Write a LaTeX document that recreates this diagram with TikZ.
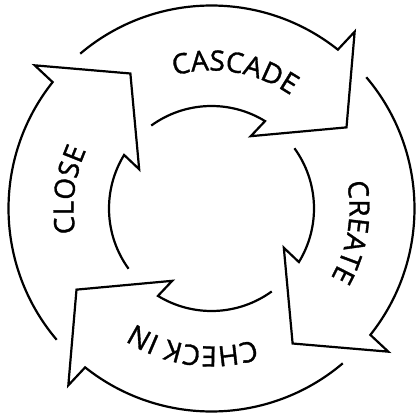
\documentclass[tikz,border=0pt]{standalone}
\usepackage{fontspec}
\setmainfont{Open Sans}
\newfontfamily\cyclefont[FakeBold=1.2]{Open Sans}
\usetikzlibrary{decorations.text}
\tikzset{
  arrowline/.style={draw=black, line width=2.2pt, line join=miter},
  cyclelabel/.style={decorate, decoration={text along path, text align=center, text={|\cyclefont\fontsize{28}{32}\selectfont|#1}}}
}
\begin{document}
\begin{tikzpicture}[x=1pt,y=1pt]
\useasboundingbox (-211.5,-209.5) rectangle (205.5,208.5);
\foreach \k in {0,1,2,3}{
  \begin{scope}[rotate=-90*\k]
    \draw[arrowline] (130.3:203) arc[start angle=130.3, end angle=51.5, radius=203]
      -- (51:227.5) -- (31:157.5) -- (61.5:82.3) -- (58.5:102.5)
      arc[start angle=58.5, end angle=126, radius=102.5];
  \end{scope}
}
\path[cyclelabel=CASCADE] (120.3:138) arc[start angle=120.3, end angle=40.3, radius=138];
\path[cyclelabel=CREATE] (30.5:138) arc[start angle=30.5, end angle=-49.5, radius=138];
\path[cyclelabel={CHECK IN}] (-57.7:138) arc[start angle=-57.7, end angle=-137.7, radius=138];
\path[cyclelabel=CLOSE] (212.6:138) arc[start angle=212.6, end angle=132.6, radius=138];
\end{tikzpicture}
\end{document}
